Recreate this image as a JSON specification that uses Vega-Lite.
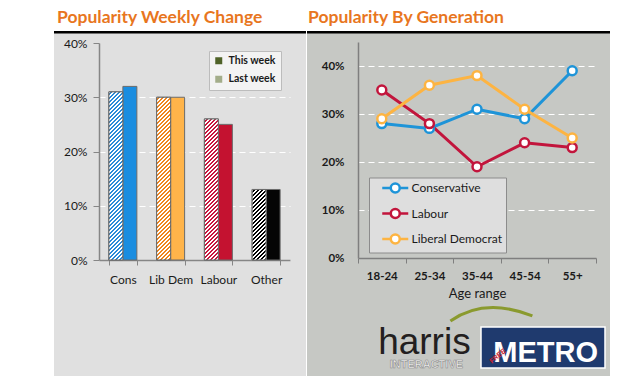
{
  "$schema": "https://vega.github.io/schema/vega-lite/v6.json",
  "background": "white",
  "padding": {"left": 54, "top": 8, "right": 26, "bottom": 0},
  "spacing": 1,
  "config": {"view": {"stroke": null}, "font": "Lato"},
  "hconcat": [
    {
      "width": 252,
      "height": 345,
      "view": {"fill": "#e0e0e0", "stroke": null},
      "title": {"text": "Popularity Weekly Change", "anchor": "start", "frame": "group", "font": "Lato", "fontSize": 17.5, "fontWeight": "bold", "color": "#e8761e", "offset": -9, "dx": 3, "baseline": "alphabetic"},
      "data": {"values": [
        {"party": "Cons", "week": "Last week", "value": 0.31},
        {"party": "Cons", "week": "This week", "value": 0.32},
        {"party": "Lib Dem", "week": "Last week", "value": 0.30},
        {"party": "Lib Dem", "week": "This week", "value": 0.30},
        {"party": "Labour", "week": "Last week", "value": 0.26},
        {"party": "Labour", "week": "This week", "value": 0.25},
        {"party": "Other", "week": "Last week", "value": 0.13},
        {"party": "Other", "week": "This week", "value": 0.13}
      ]},
      "resolve": {"scale": {"fill": "independent"}},
      "layer": [
        {
          "transform": [{"calculate": "datum.party + ' | ' + datum.week", "as": "key"}],
          "mark": {"type": "bar", "stroke": "#6b6b6b", "strokeWidth": 1},
          "encoding": {
            "x": {"field": "party", "type": "nominal", "sort": ["Cons", "Lib Dem", "Labour", "Other"],
              "scale": {"range": [45, 236], "paddingInner": 0.414, "paddingOuter": 0.207},
              "axis": {"title": null, "orient": "bottom", "offset": -116, "labelAngle": 0, "domainColor": "#868686", "domainWidth": 1.5, "tickBand": "extent", "tickExtra": true, "tickColor": "#868686", "tickSize": 5, "tickWidth": 1, "labelFont": "Lato", "labelFontSize": 12, "labelColor": "#1a1a1a", "labelPadding": 9, "grid": false}},
            "xOffset": {"field": "week", "type": "nominal", "sort": ["Last week", "This week"]},
            "y": {"field": "value", "type": "quantitative",
              "scale": {"domain": [0, 0.4], "range": [229, 12], "nice": false},
              "axis": {"title": null, "orient": "left", "offset": -45, "values": [0, 0.1, 0.2, 0.3, 0.4], "format": ".0%", "domainColor": "#868686", "domainWidth": 1.5, "tickColor": "#868686", "tickSize": 6, "labelPadding": 6, "labelFont": "Lato", "labelFontSize": 12, "labelColor": "#1a1a1a", "grid": true, "gridColor": "white", "gridDash": [6, 4], "gridWidth": 1.2, "gridOpacity": {"condition": {"test": "datum.value >= 0.4", "value": 0}, "value": 1}}},
            "fill": {"field": "key", "type": "nominal", "legend": null,
              "scale": {"domain": ["Cons | Last week", "Cons | This week", "Lib Dem | Last week", "Lib Dem | This week", "Labour | Last week", "Labour | This week", "Other | Last week", "Other | This week"],
                        "range": ["#2a8ad8", "#1a8de0", "#f0851c", "#ffb44a", "#c8143c", "#c41230", "#000000", "#050505"]}}
          }
        },
        {
          "transform": [{"filter": "datum.week === 'Last week'"}],
          "mark": {"type": "bar", "stroke": "#6b6b6b", "strokeWidth": 1,
            "fill": {"expr": "{gradient:'linear',x1:0,y1:0,x2:2800/(294306.25*datum.value*datum.value+196),y2:108500*datum.value/(294306.25*datum.value*datum.value+196),stops:[{offset:0,color:'#fff'},{offset:.01,color:'#fff'},{offset:.01,color:'#fff0'},{offset:.02,color:'#fff0'},{offset:.02,color:'#fff'},{offset:.03,color:'#fff'},{offset:.03,color:'#fff0'},{offset:.04,color:'#fff0'},{offset:.04,color:'#fff'},{offset:.05,color:'#fff'},{offset:.05,color:'#fff0'},{offset:.06,color:'#fff0'},{offset:.06,color:'#fff'},{offset:.07,color:'#fff'},{offset:.07,color:'#fff0'},{offset:.08,color:'#fff0'},{offset:.08,color:'#fff'},{offset:.09,color:'#fff'},{offset:.09,color:'#fff0'},{offset:.10,color:'#fff0'},{offset:.10,color:'#fff'},{offset:.11,color:'#fff'},{offset:.11,color:'#fff0'},{offset:.12,color:'#fff0'},{offset:.12,color:'#fff'},{offset:.13,color:'#fff'},{offset:.13,color:'#fff0'},{offset:.14,color:'#fff0'},{offset:.14,color:'#fff'},{offset:.15,color:'#fff'},{offset:.15,color:'#fff0'},{offset:.16,color:'#fff0'},{offset:.16,color:'#fff'},{offset:.17,color:'#fff'},{offset:.17,color:'#fff0'},{offset:.18,color:'#fff0'},{offset:.18,color:'#fff'},{offset:.19,color:'#fff'},{offset:.19,color:'#fff0'},{offset:.20,color:'#fff0'},{offset:.20,color:'#fff'},{offset:.21,color:'#fff'},{offset:.21,color:'#fff0'},{offset:.22,color:'#fff0'},{offset:.22,color:'#fff'},{offset:.23,color:'#fff'},{offset:.23,color:'#fff0'},{offset:.24,color:'#fff0'},{offset:.24,color:'#fff'},{offset:.25,color:'#fff'},{offset:.25,color:'#fff0'},{offset:.26,color:'#fff0'},{offset:.26,color:'#fff'},{offset:.27,color:'#fff'},{offset:.27,color:'#fff0'},{offset:.28,color:'#fff0'},{offset:.28,color:'#fff'},{offset:.29,color:'#fff'},{offset:.29,color:'#fff0'},{offset:.30,color:'#fff0'},{offset:.30,color:'#fff'},{offset:.31,color:'#fff'},{offset:.31,color:'#fff0'},{offset:.32,color:'#fff0'},{offset:.32,color:'#fff'},{offset:.33,color:'#fff'},{offset:.33,color:'#fff0'},{offset:.34,color:'#fff0'},{offset:.34,color:'#fff'},{offset:.35,color:'#fff'},{offset:.35,color:'#fff0'},{offset:.36,color:'#fff0'},{offset:.36,color:'#fff'},{offset:.37,color:'#fff'},{offset:.37,color:'#fff0'},{offset:.38,color:'#fff0'},{offset:.38,color:'#fff'},{offset:.39,color:'#fff'},{offset:.39,color:'#fff0'},{offset:.40,color:'#fff0'},{offset:.40,color:'#fff'},{offset:.41,color:'#fff'},{offset:.41,color:'#fff0'},{offset:.42,color:'#fff0'},{offset:.42,color:'#fff'},{offset:.43,color:'#fff'},{offset:.43,color:'#fff0'},{offset:.44,color:'#fff0'},{offset:.44,color:'#fff'},{offset:.45,color:'#fff'},{offset:.45,color:'#fff0'},{offset:.46,color:'#fff0'},{offset:.46,color:'#fff'},{offset:.47,color:'#fff'},{offset:.47,color:'#fff0'},{offset:.48,color:'#fff0'},{offset:.48,color:'#fff'},{offset:.49,color:'#fff'},{offset:.49,color:'#fff0'},{offset:.50,color:'#fff0'},{offset:.50,color:'#fff'},{offset:.51,color:'#fff'},{offset:.51,color:'#fff0'},{offset:.52,color:'#fff0'},{offset:.52,color:'#fff'},{offset:.53,color:'#fff'},{offset:.53,color:'#fff0'},{offset:.54,color:'#fff0'},{offset:.54,color:'#fff'},{offset:.55,color:'#fff'},{offset:.55,color:'#fff0'},{offset:.56,color:'#fff0'},{offset:.56,color:'#fff'},{offset:.57,color:'#fff'},{offset:.57,color:'#fff0'},{offset:.58,color:'#fff0'},{offset:.58,color:'#fff'},{offset:.59,color:'#fff'},{offset:.59,color:'#fff0'},{offset:.60,color:'#fff0'},{offset:.60,color:'#fff'},{offset:.61,color:'#fff'},{offset:.61,color:'#fff0'},{offset:.62,color:'#fff0'},{offset:.62,color:'#fff'},{offset:.63,color:'#fff'},{offset:.63,color:'#fff0'},{offset:.64,color:'#fff0'},{offset:.64,color:'#fff'},{offset:.65,color:'#fff'},{offset:.65,color:'#fff0'},{offset:.66,color:'#fff0'},{offset:.66,color:'#fff'},{offset:.67,color:'#fff'},{offset:.67,color:'#fff0'},{offset:.68,color:'#fff0'},{offset:.68,color:'#fff'},{offset:.69,color:'#fff'},{offset:.69,color:'#fff0'},{offset:.70,color:'#fff0'},{offset:.70,color:'#fff'},{offset:.71,color:'#fff'},{offset:.71,color:'#fff0'},{offset:.72,color:'#fff0'},{offset:.72,color:'#fff'},{offset:.73,color:'#fff'},{offset:.73,color:'#fff0'},{offset:.74,color:'#fff0'},{offset:.74,color:'#fff'},{offset:.75,color:'#fff'},{offset:.75,color:'#fff0'},{offset:.76,color:'#fff0'},{offset:.76,color:'#fff'},{offset:.77,color:'#fff'},{offset:.77,color:'#fff0'},{offset:.78,color:'#fff0'},{offset:.78,color:'#fff'},{offset:.79,color:'#fff'},{offset:.79,color:'#fff0'},{offset:.80,color:'#fff0'},{offset:.80,color:'#fff'},{offset:.81,color:'#fff'},{offset:.81,color:'#fff0'},{offset:.82,color:'#fff0'},{offset:.82,color:'#fff'},{offset:.83,color:'#fff'},{offset:.83,color:'#fff0'},{offset:.84,color:'#fff0'},{offset:.84,color:'#fff'},{offset:.85,color:'#fff'},{offset:.85,color:'#fff0'},{offset:.86,color:'#fff0'},{offset:.86,color:'#fff'},{offset:.87,color:'#fff'},{offset:.87,color:'#fff0'},{offset:.88,color:'#fff0'},{offset:.88,color:'#fff'},{offset:.89,color:'#fff'},{offset:.89,color:'#fff0'},{offset:.90,color:'#fff0'},{offset:.90,color:'#fff'},{offset:.91,color:'#fff'},{offset:.91,color:'#fff0'},{offset:.92,color:'#fff0'},{offset:.92,color:'#fff'},{offset:.93,color:'#fff'},{offset:.93,color:'#fff0'},{offset:.94,color:'#fff0'},{offset:.94,color:'#fff'},{offset:.95,color:'#fff'},{offset:.95,color:'#fff0'},{offset:1,color:'#fff0'}]}"}},
          "encoding": {
            "x": {"field": "party", "type": "nominal", "sort": ["Cons", "Lib Dem", "Labour", "Other"]},
            "xOffset": {"field": "week", "type": "nominal", "sort": ["Last week", "This week"]},
            "y": {"field": "value", "type": "quantitative"}
          }
        },
        {
          "mark": {"type": "bar", "opacity": 0},
          "encoding": {
            "x": {"field": "party", "type": "nominal", "sort": ["Cons", "Lib Dem", "Labour", "Other"]},
            "xOffset": {"field": "week", "type": "nominal", "sort": ["Last week", "This week"]},
            "y": {"field": "value", "type": "quantitative"},
            "fill": {"field": "week", "type": "nominal",
              "scale": {"domain": ["This week", "Last week"], "range": ["#4f6228", "#a3ad8a"]},
              "legend": {"title": null, "orient": "none", "legendX": 155, "legendY": 20, "direction": "vertical", "padding": 4.5, "fillColor": "#f3f3f3", "strokeColor": "#bcbcbc", "symbolType": "square", "symbolSize": 49, "symbolStrokeWidth": 0, "symbolOpacity": 1, "labelFont": "Lato", "labelFontSize": 10.5, "labelFontWeight": "bold", "labelColor": "#1a1a1a", "labelOffset": 4.5, "rowPadding": 7.5}}
          }
        },
        {
          "data": {"values": [{"edge": "top"}]},
          "mark": {"type": "rule", "color": "black", "strokeWidth": 2.5, "clip": true},
          "encoding": {"y": {"datum": 0.4198}}
        }
      ]
    },
    {
      "width": 303,
      "height": 345,
      "view": {"fill": "#c6c8c4", "stroke": null},
      "title": {"text": "Popularity By Generation", "anchor": "start", "frame": "group", "font": "Lato", "fontSize": 17.5, "fontWeight": "bold", "color": "#e8761e", "offset": -9, "dx": 1, "baseline": "alphabetic"},
      "layer": [
        {
          "data": {"values": [
            {"age": "18-24", "party": "Conservative", "value": 0.28},
            {"age": "25-34", "party": "Conservative", "value": 0.27},
            {"age": "35-44", "party": "Conservative", "value": 0.31},
            {"age": "45-54", "party": "Conservative", "value": 0.29},
            {"age": "55+", "party": "Conservative", "value": 0.39},
            {"age": "18-24", "party": "Labour", "value": 0.35},
            {"age": "25-34", "party": "Labour", "value": 0.28},
            {"age": "35-44", "party": "Labour", "value": 0.19},
            {"age": "45-54", "party": "Labour", "value": 0.24},
            {"age": "55+", "party": "Labour", "value": 0.23},
            {"age": "18-24", "party": "Liberal Democrat", "value": 0.29},
            {"age": "25-34", "party": "Liberal Democrat", "value": 0.36},
            {"age": "35-44", "party": "Liberal Democrat", "value": 0.38},
            {"age": "45-54", "party": "Liberal Democrat", "value": 0.31},
            {"age": "55+", "party": "Liberal Democrat", "value": 0.25}
          ]},
          "encoding": {
            "x": {"field": "age", "type": "nominal", "sort": ["18-24", "25-34", "35-44", "45-54", "55+"],
              "scale": {"type": "band", "range": [51, 289], "paddingInner": 0, "paddingOuter": 0},
              "axis": {"title": "Age range", "orient": "bottom", "offset": -118, "labelAngle": 0, "domainColor": "#7f7f7f", "domainWidth": 1.5, "tickBand": "extent", "tickExtra": true, "tickColor": "#7f7f7f", "tickSize": 5, "labelFont": "Lato", "labelFontSize": 11.5, "labelFontWeight": "bold", "labelColor": "#1a1a1a", "labelPadding": 7, "titleFont": "Lato", "titleFontSize": 13, "titleFontWeight": "normal", "titleColor": "#1a1a1a", "titlePadding": 6, "grid": false}},
            "y": {"field": "value", "type": "quantitative",
              "scale": {"domain": [0, 0.45], "range": [227, 11], "nice": false},
              "axis": {"title": null, "orient": "left", "offset": -51, "values": [0, 0.1, 0.2, 0.3, 0.4], "format": ".0%", "domainColor": "#7f7f7f", "domainWidth": 1.5, "ticks": false, "labelPadding": 14, "labelFont": "Lato", "labelFontSize": 11.5, "labelFontWeight": "bold", "labelColor": "#1a1a1a", "grid": true, "gridColor": "white", "gridDash": [6, 4], "gridWidth": 1.2}},
            "color": {"field": "party", "type": "nominal",
              "scale": {"domain": ["Conservative", "Labour", "Liberal Democrat"], "range": ["#1e94d8", "#c2153c", "#fdb442"]},
              "legend": {"title": null, "orient": "none", "legendX": 315, "legendY": 146.5, "direction": "vertical", "padding": 4, "fillColor": "#dedede", "strokeColor": "#8c8c8c", "symbolType": "M0.55,0L2.25,0M4.05,0L5.75,0M2.25,0A0.9,0.9,0,1,1,4.05,0A0.9,0.9,0,1,1,2.25,0", "symbolSize": 100, "symbolStrokeWidth": 2.5, "symbolFillColor": "white", "labelFont": "Lato", "labelFontSize": 12, "labelColor": "#1a1a1a", "labelOffset": 25.5, "rowPadding": 6.5}}
          },
          "layer": [
            {"mark": {"type": "line", "strokeWidth": 3}},
            {"mark": {"type": "point", "filled": false, "fill": "white", "strokeWidth": 2.5, "size": 80, "opacity": 1}}
          ]
        },
        {
          "data": {"values": [{"edge": "top"}]},
          "mark": {"type": "rule", "color": "black", "strokeWidth": 2.5, "clip": true},
          "encoding": {"y": {"datum": 0.4703}}
        },
        {
          "data": {"values": [{"logo": "harris arc"}]},
          "mark": {"type": "point", "shape": "M-2.66,0.2Q0.8,-2.2,5.54,-0.3", "size": 400, "filled": false, "stroke": "#8a9a2e", "strokeWidth": 3, "opacity": 1},
          "encoding": {"x": {"datum": "35-44"}, "y": {"datum": -0.127}}
        },
        {
          "data": {"values": [{"logo": "metro box"}]},
          "mark": {"type": "point", "shape": "M-2.18,-1.025H4.02V1.025H-2.18Z", "size": 1600, "filled": true, "fill": "#1f3a6e", "stroke": "white", "strokeWidth": 1.5, "opacity": 1},
          "encoding": {"x": {"datum": "45-54"}, "y": {"datum": -0.1865}}
        },
        {
          "data": {"values": [{"logo": "METRO"}]},
          "mark": {"type": "text", "font": "Liberation Sans", "fontSize": 29, "fontWeight": "bold", "fill": "white", "align": "center", "baseline": "alphabetic", "dx": 21},
          "encoding": {"x": {"datum": "45-54"}, "y": {"datum": -0.2167}, "text": {"field": "logo"}}
        },
        {
          "data": {"values": [{"logo": "FREE"}]},
          "mark": {"type": "text", "font": "Liberation Sans", "fontSize": 7, "fontWeight": "bold", "fill": "#d0202a", "align": "center", "baseline": "middle", "angle": -40, "dx": -35},
          "encoding": {"x": {"datum": "45-54"}, "y": {"datum": -0.158}, "text": {"field": "logo"}}
        },
        {
          "data": {"values": [{"logo": "harris"}]},
          "mark": {"type": "text", "font": "Liberation Sans", "fontSize": 37, "fill": "#231f20", "align": "center", "baseline": "alphabetic", "dx": -5},
          "encoding": {"x": {"datum": "25-34"}, "y": {"datum": -0.2}, "text": {"field": "logo"}}
        },
        {
          "data": {"values": [{"logo": "INTERACTIVE"}]},
          "mark": {"type": "text", "font": "Liberation Sans", "fontSize": 11, "fontWeight": "bold", "fill": "#f4f4f4", "stroke": "#8a8a8a", "strokeWidth": 0.6, "align": "center", "baseline": "alphabetic", "dx": -3},
          "encoding": {"x": {"datum": "25-34"}, "y": {"datum": -0.229}, "text": {"field": "logo"}}
        }
      ]
    }
  ]
}
